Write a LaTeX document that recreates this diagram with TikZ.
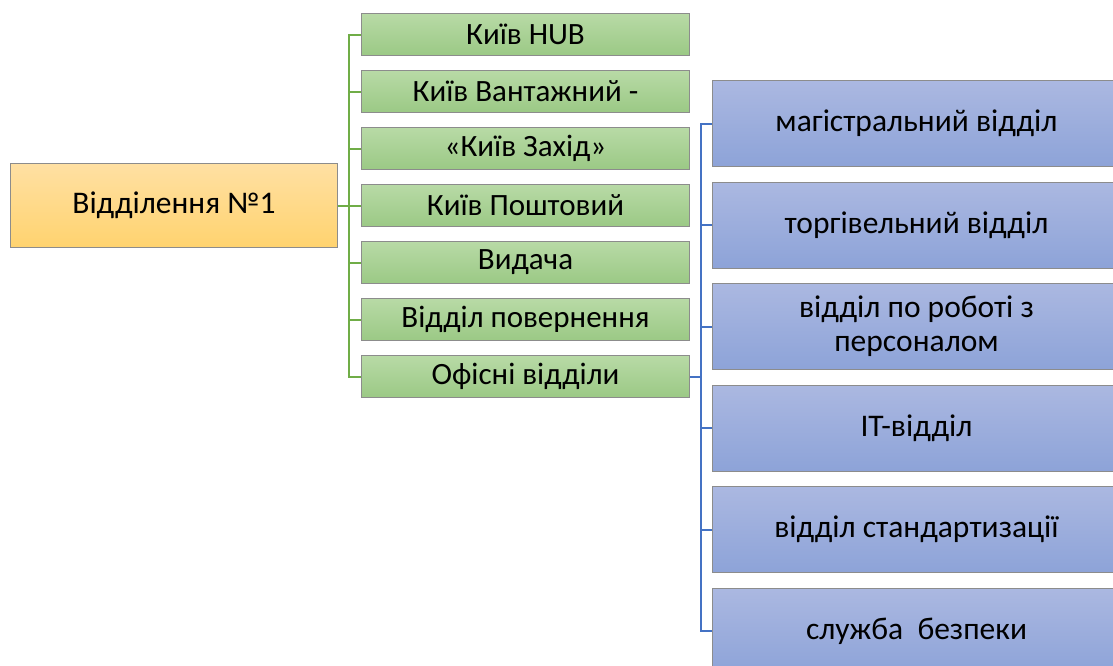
\documentclass[tikz,border=0pt]{standalone}
\usepackage{fontspec}
\setmainfont{Carlito}
\definecolor{orgT}{HTML}{FFE0A3}
\definecolor{orgB}{HTML}{FFD36F}
\definecolor{grnT}{HTML}{B8DAA6}
\definecolor{grnB}{HTML}{9BC985}
\definecolor{bluT}{HTML}{ABB8E1}
\definecolor{bluB}{HTML}{8DA3D8}
\definecolor{brd}{HTML}{8C8C8C}
\definecolor{gln}{HTML}{70AD47}
\definecolor{bln}{HTML}{4472C4}
\begin{document}
\begin{tikzpicture}[x=1pt,y=-1pt,
  box/.style={draw=brd,line width=1pt,anchor=north west,inner sep=0pt,align=center,text=black},
  rootbox/.style={box,top color=orgT,bottom color=orgB,minimum width=327pt,minimum height=84pt,font=\fontsize{31.5}{34}\selectfont},
  grnbox/.style={box,top color=grnT,bottom color=grnB,minimum width=328pt,minimum height=42pt,font=\fontsize{31}{34}\selectfont},
  blubox/.style={box,top color=bluT,bottom color=bluB,minimum width=408pt,minimum height=86pt,font=\fontsize{31.5}{34}\selectfont},
  gline/.style={draw=gln,line width=2pt},
  bline/.style={draw=bln,line width=2pt}]
\useasboundingbox (0,0) rectangle (1113,665);
\clip (0,0) rectangle (1113,665);
\node[rootbox] (root) at (10,163) {Відділення №1};
\node[grnbox] (g1) at (361,13) {Київ HUB};
\node[grnbox] (g2) at (361,70) {Київ Вантажний -};
\node[grnbox] (g3) at (361,127) {«Київ Захід»};
\node[grnbox] (g4) at (361,184) {Київ Поштовий};
\node[grnbox] (g5) at (361,241) {Видача};
\node[grnbox] (g6) at (361,298) {Відділ повернення};
\node[grnbox] (g7) at (361,355) {Офісні відділи};
\node[blubox] (b1) at (712,80) {магістральний відділ};
\node[blubox] (b2) at (712,181.5) {торгівельний відділ};
\node[blubox] (b3) at (712,283) {відділ по роботі з\\персоналом};
\node[blubox] (b4) at (712,384.5) {IT-відділ};
\node[blubox] (b5) at (712,486) {відділ стандартизації};
\node[blubox] (b6) at (712,587.5) {служба\ \ безпеки};
\coordinate (gt) at (349,0);
\coordinate (bt) at (700.5,0);
\draw[gline] (root.east) -- (root.east -| gt);
\draw[gline] (g1.west) -- (g1.west -| gt) -- (g7.west -| gt) -- (g7.west);
\foreach \n in {g2,g3,g4,g5,g6} \draw[gline] (\n.west) -- (\n.west -| gt);
\draw[bline] (g7.east) -- (g7.east -| bt);
\draw[bline] (b1.west) -- (b1.west -| bt) -- (b6.west -| bt) -- (b6.west);
\foreach \n in {b2,b3,b4,b5} \draw[bline] (\n.west) -- (\n.west -| bt);
\end{tikzpicture}
\end{document}
